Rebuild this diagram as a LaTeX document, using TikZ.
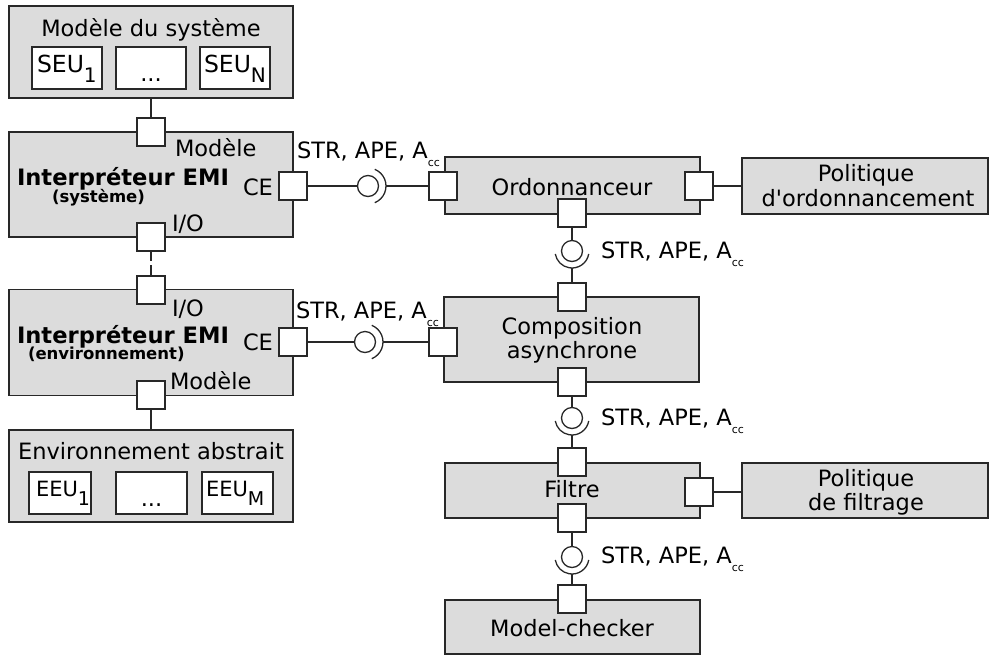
\documentclass[tikz,border=0pt]{standalone}
\usepackage{fontspec}
\setmainfont{DejaVu Sans}
\definecolor{boxgray}{RGB}{220,220,220}
\definecolor{linec}{RGB}{40,40,40}
\newcommand\strlbl{STR, APE, A\raisebox{-8pt}{\fontsize{11pt}{11pt}\selectfont cc}}
\newcommand\seulbl[1]{{\fontsize{23.5pt}{26pt}\selectfont SEU\raisebox{-10pt}{\fontsize{20pt}{23pt}\selectfont #1}}}
\newcommand\eeulbl[1]{{\fontsize{21pt}{24pt}\selectfont EEU\raisebox{-9pt}{\fontsize{19pt}{21pt}\selectfont #1}}}
\begin{document}
\begin{tikzpicture}[x=1pt,y=-1pt,line width=1.3pt,
  every node/.style={font=\fontsize{22.5pt}{26pt}\selectfont, inner sep=0pt, outer sep=0pt},
  comp/.style={draw=linec, fill=boxgray},
  unitbox/.style={draw=linec, fill=white, minimum height=42pt},
  port/.style={draw=linec, fill=white, minimum width=28pt, minimum height=28pt},
  ball/.style={draw=linec, circle, minimum size=21pt, fill=white},
  lbl/.style={anchor=base west},
  ctr/.style={anchor=base},
  titlefont/.style={font=\fontsize{22.6pt}{26pt}\selectfont\bfseries},
  subtitlefont/.style={font=\fontsize{16.5pt}{19pt}\selectfont\bfseries},
  wire/.style={draw=linec},
  socket/.style={draw=linec}]
\path[use as bounding box] (0,0) rectangle (990,657);

% ---------- left column boxes ----------
\node[comp, minimum width=284pt, minimum height=92pt] (msys) at (151,52) {};
\node[ctr] (msyst) at (151,36) {Modèle du système};
\node[unitbox, minimum width=70pt] (seu1) at (67,68) {};
\node[unitbox, minimum width=70pt] (seud) at (151,68) {};
\node[unitbox, minimum width=70pt] (seun) at (235,68) {};
\node[lbl] (seu1t) at (37,72) {\seulbl{1}};
\node[ctr] (seudt) at (151,81) {...};
\node[lbl] (seunt) at (204,72) {\seulbl{N}};

\node[comp, minimum width=284pt, minimum height=105pt] (isys) at (151,184.5) {};
\node[lbl] (isysm) at (175,156.5) {Modèle};
\node[lbl, titlefont] (isyst) at (17,185) {Interpréteur EMI};
\node[lbl, subtitlefont] (isyss) at (52,202) {(système)};
\node[lbl] (isysce) at (243,195) {CE};
\node[lbl] (isysio) at (172,231.5) {I/O};

\node[comp, minimum width=284pt, minimum height=106pt] (ienv) at (151,342.5) {};
\node[lbl] (ienvio) at (172,316) {I/O};
\node[lbl, titlefont] (ienvt) at (17,343) {Interpréteur EMI};
\node[lbl, subtitlefont] (ienvs) at (28,359) {(environnement)};
\node[lbl] (ienvce) at (243,350.5) {CE};
\node[lbl] (ienvm) at (170,389) {Modèle};

\node[comp, minimum width=284pt, minimum height=92pt] (eabs) at (151,476) {};
\node[ctr] (eabst) at (151,459) {Environnement abstrait};
\node[unitbox, minimum width=62pt] (eeu1) at (60,493) {};
\node[unitbox, minimum width=71pt] (eeud) at (151.5,493) {};
\node[unitbox, minimum width=71pt] (eeum) at (237.5,493) {};
\node[lbl] (eeu1t) at (36,496) {\eeulbl{1}};
\node[ctr] (eeudt) at (151.5,506) {...};
\node[lbl] (eeumt) at (206,496) {\eeulbl{M}};

% ---------- right column boxes ----------
\node[comp, minimum width=255pt, minimum height=57pt] (ord) at (572.5,185.5) {};
\node[ctr] (ordt) at (572,195) {Ordonnanceur};
\node[comp, minimum width=246pt, minimum height=56pt] (polord) at (865,186) {};
\node[ctr] (polord1) at (866,181) {Politique};
\node[ctr] (polord2) at (868,206.5) {d\textquotesingle ordonnancement};

\node[comp, minimum width=255pt, minimum height=85pt] (compo) at (571.5,339.5) {};
\node[ctr] (compo1) at (572,334) {Composition};
\node[ctr] (compo2) at (572,358) {asynchrone};

\node[comp, minimum width=255pt, minimum height=55pt] (filt) at (572.5,490.5) {};
\node[ctr] (filtt) at (572,497) {Filtre};
\node[comp, minimum width=246pt, minimum height=55pt] (polfil) at (865,490.5) {};
\node[ctr] (polfil1) at (866,486.5) {Politique};
\node[ctr] (polfil2) at (866,510) {de filtrage};

\node[comp, minimum width=255pt, minimum height=54pt] (mc) at (572.5,627) {};
\node[ctr] (mct) at (572,636.5) {Model-checker};

% ---------- ports ----------
\node[port] (psm) at (151,132) {};
\node[port] (psio) at (151,237) {};
\node[port] (psce) at (293,186) {};
\node[port] (peio) at (151,290) {};
\node[port] (pece) at (293,342) {};
\node[port] (pem) at (151,395) {};
\node[port] (pol) at (443,186) {};
\node[port] (por) at (699,186) {};
\node[port] (pob) at (572,213) {};
\node[port] (pct) at (572,297) {};
\node[port] (pcl) at (443,342) {};
\node[port] (pcb) at (572,382) {};
\node[port] (pft) at (572,462) {};
\node[port] (pfb) at (572,518) {};
\node[port] (pfr) at (699,492) {};
\node[port] (pmt) at (572,599) {};

% ---------- balls ----------
\node[ball] (b1) at (368,186) {};
\node[ball] (b2) at (365,342) {};
\node[ball] (b3) at (572,251) {};
\node[ball] (b4) at (572,418) {};
\node[ball] (b5) at (572,557) {};

% sockets
\draw[socket] ([shift={(-68:18)}]b1.center) arc[start angle=-68, end angle=68, radius=18];
\draw[socket] ([shift={(-68:18)}]b2.center) arc[start angle=-68, end angle=68, radius=18];
\draw[socket] ([shift={(10:17)}]b3.center) arc[start angle=10, end angle=170, radius=17];
\draw[socket] ([shift={(10:17)}]b4.center) arc[start angle=10, end angle=170, radius=17];
\draw[socket] ([shift={(10:17)}]b5.center) arc[start angle=10, end angle=170, radius=17];
\coordinate (s1) at ([shift={(0:18)}]b1.center);
\coordinate (s2) at ([shift={(0:18)}]b2.center);
\coordinate (s3) at ([shift={(90:17)}]b3.center);
\coordinate (s4) at ([shift={(90:17)}]b4.center);
\coordinate (s5) at ([shift={(90:17)}]b5.center);

% ---------- wires ----------
\draw[wire] (msys) -- (psm);
\draw[wire, dash pattern=on 10pt off 4pt] (psio) -- (peio);
\draw[wire] (pem) -- (eabs);
\draw[wire] (psce) -- (b1);
\draw[wire] (s1) -- (pol);
\draw[wire] (pece) -- (b2);
\draw[wire] (s2) -- (pcl);
\draw[wire] (por) -- (polord);
\draw[wire] (pfr) -- (polfil.west |- pfr);
\draw[wire] (pob) -- (b3);
\draw[wire] (s3) -- (pct);
\draw[wire] (pcb) -- (b4);
\draw[wire] (s4) -- (pft);
\draw[wire] (pfb) -- (b5);
\draw[wire] (s5) -- (pmt);

% ---------- interface labels ----------
\node[lbl] (l1) at (297,158.3) {\strlbl};
\node[lbl] (l2) at (296,318) {\strlbl};
\node[lbl] (l3) at (601,258.3) {\strlbl};
\node[lbl] (l4) at (601,425) {\strlbl};
\node[lbl] (l5) at (601,563.3) {\strlbl};
\end{tikzpicture}
\end{document}
